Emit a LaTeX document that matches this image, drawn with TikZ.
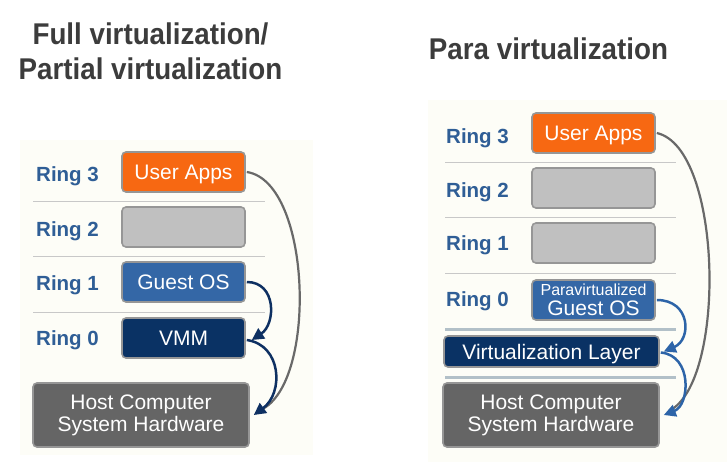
\documentclass[tikz,border=0pt]{standalone}
\usepackage{fontspec}
\setmainfont{Liberation Sans}
\newfontfamily\titlefont{Liberation Sans}[FakeStretch=0.925]
\usetikzlibrary{arrows.meta}
\definecolor{panelbg}{RGB}{253,253,247}
\definecolor{titlegray}{RGB}{60,60,60}
\definecolor{ringblue}{RGB}{47,94,150}
\definecolor{uaorange}{RGB}{247,104,18}
\definecolor{emptygray}{RGB}{192,192,192}
\definecolor{guestblue}{RGB}{52,103,166}
\definecolor{vmmnavy}{RGB}{10,50,100}
\definecolor{hostgray}{RGB}{101,101,101}
\definecolor{boxborder}{RGB}{150,150,150}
\definecolor{seplight}{RGB}{200,200,200}
\definecolor{septhick}{RGB}{178,192,200}
\definecolor{arrgray}{RGB}{105,105,105}
\definecolor{arrnavy}{RGB}{14,48,98}
\definecolor{arrblue}{RGB}{45,100,168}
\tikzset{
  boxbase/.style={rounded corners=4pt, draw=boxborder, line width=1.6pt, inner sep=0pt,
    text=white, font=\fontsize{21}{21.7}\selectfont},
  ringbox/.style={boxbase, minimum width=123pt, minimum height=40pt, text height=15pt, text depth=0pt},
  hostbox/.style={boxbase, fill=hostgray, minimum width=216pt, minimum height=64pt, align=center},
  ringlabel/.style={anchor=west, text=ringblue, inner sep=0pt,
    font=\fontsize{20.5}{21}\selectfont\bfseries, text height=14.7pt, text depth=0pt},
  titletext/.style={anchor=base, text=titlegray, inner sep=0pt,
    font=\fontsize{30}{32}\titlefont\bfseries},
  sepline/.style={draw=seplight, line width=0.9pt},
  septhickline/.style={draw=septhick, line width=3pt},
  arrowhead/.style={-{Triangle[length=12pt,width=12pt]}},
}
\begin{document}
\begin{tikzpicture}[x=1pt,y=-1pt]
\useasboundingbox (0,0) rectangle (728,476);
\fill[white] (0,0) rectangle (728,476);
% panels
\fill[panelbg] (20,140) rectangle (313,455);
\fill[panelbg] (428,100) rectangle (727,462);

% titles
\node[titletext] (t1) at (150.5,45) {Full virtualization/};
\node[titletext] (t2) at (150.5,80) {Partial virtualization};
\node[titletext] (t3) at (548.5,60) {Para virtualization};

% ---------- left panel ----------
\draw[sepline] (33,201) -- (265,201);
\draw[sepline] (33,256) -- (265,256);
\draw[sepline] (33,312) -- (265,312);

\node[ringlabel] (l3) at (36,174.5) {Ring 3};
\node[ringlabel] (l2) at (36,229) {Ring 2};
\node[ringlabel] (l1) at (36,283) {Ring 1};
\node[ringlabel] (l0) at (36,338.5) {Ring 0};

\node[ringbox, fill=uaorange] (ua) at (183.5,172) {User Apps};
\node[ringbox, fill=emptygray] (r2) at (183.5,227) {};
\node[ringbox, fill=guestblue] (gos) at (183.5,282) {Guest OS};
\node[ringbox, fill=vmmnavy] (vmm) at (183.5,338) {VMM};
\node[hostbox] (host) at (141,415) {Host Computer\\System Hardware};

\draw[arrgray, line width=2.2pt] ([xshift=1pt]ua.east) .. controls +(66,10) and +(60,-20) .. ([xshift=8pt,yshift=4pt]host.east);
\draw[arrnavy, line width=2.5pt, arrowhead] ([xshift=1pt]gos.east) .. controls +(30,0) and +(24,-16) .. ([xshift=6pt,yshift=-2pt]vmm.east);
\draw[arrnavy, line width=2.5pt, arrowhead] ([xshift=1pt,yshift=-2pt]vmm.east) .. controls +(35,5) and +(30,-22) .. ([xshift=4pt]host.east);

% ---------- right panel ----------
\draw[sepline] (445,162) -- (676,162);
\draw[sepline] (445,217) -- (676,217);
\draw[sepline] (445,273) -- (676,273);
\draw[septhickline] (445,329) -- (676,329);
\draw[septhickline] (445,377) -- (676,377);

\node[ringlabel] (rl3) at (446,136) {Ring 3};
\node[ringlabel] (rl2) at (446,190) {Ring 2};
\node[ringlabel] (rl1) at (446,243) {Ring 1};
\node[ringlabel] (rl0) at (446,299) {Ring 0};

\node[ringbox, fill=uaorange] (rua) at (593.5,133) {User Apps};
\node[ringbox, fill=emptygray] (rr2) at (593.5,188) {};
\node[ringbox, fill=emptygray] (rr1) at (593.5,243) {};
\node[boxbase, fill=guestblue, minimum width=123pt, minimum height=40pt, align=center] (pgos) at (593.5,300)
  {{\fontsize{16}{16}\selectfont Paravirtualized}\\[-1.5pt]Guest OS};
\node[boxbase, fill=vmmnavy, minimum width=215pt, minimum height=31pt, text height=15pt, text depth=0pt] (vl) at (551.5,351.5) {Virtualization Layer};
\node[hostbox] (rhost) at (551,415) {Host Computer\\System Hardware};

\draw[arrgray, line width=2.2pt] ([xshift=1pt]rua.east) .. controls +(66,15) and +(58,-28) .. ([xshift=9pt,yshift=4pt]rhost.east);
\draw[arrblue, line width=2.5pt, arrowhead] ([xshift=1pt]pgos.east) .. controls +(34,0) and +(28,-12) .. ([xshift=4pt]vl.east);
\draw[arrblue, line width=2.5pt, arrowhead] ([xshift=1pt,yshift=-1pt]vl.east) .. controls +(32,3) and +(26,-10) .. ([xshift=4pt]rhost.east);
\end{tikzpicture}
\end{document}
